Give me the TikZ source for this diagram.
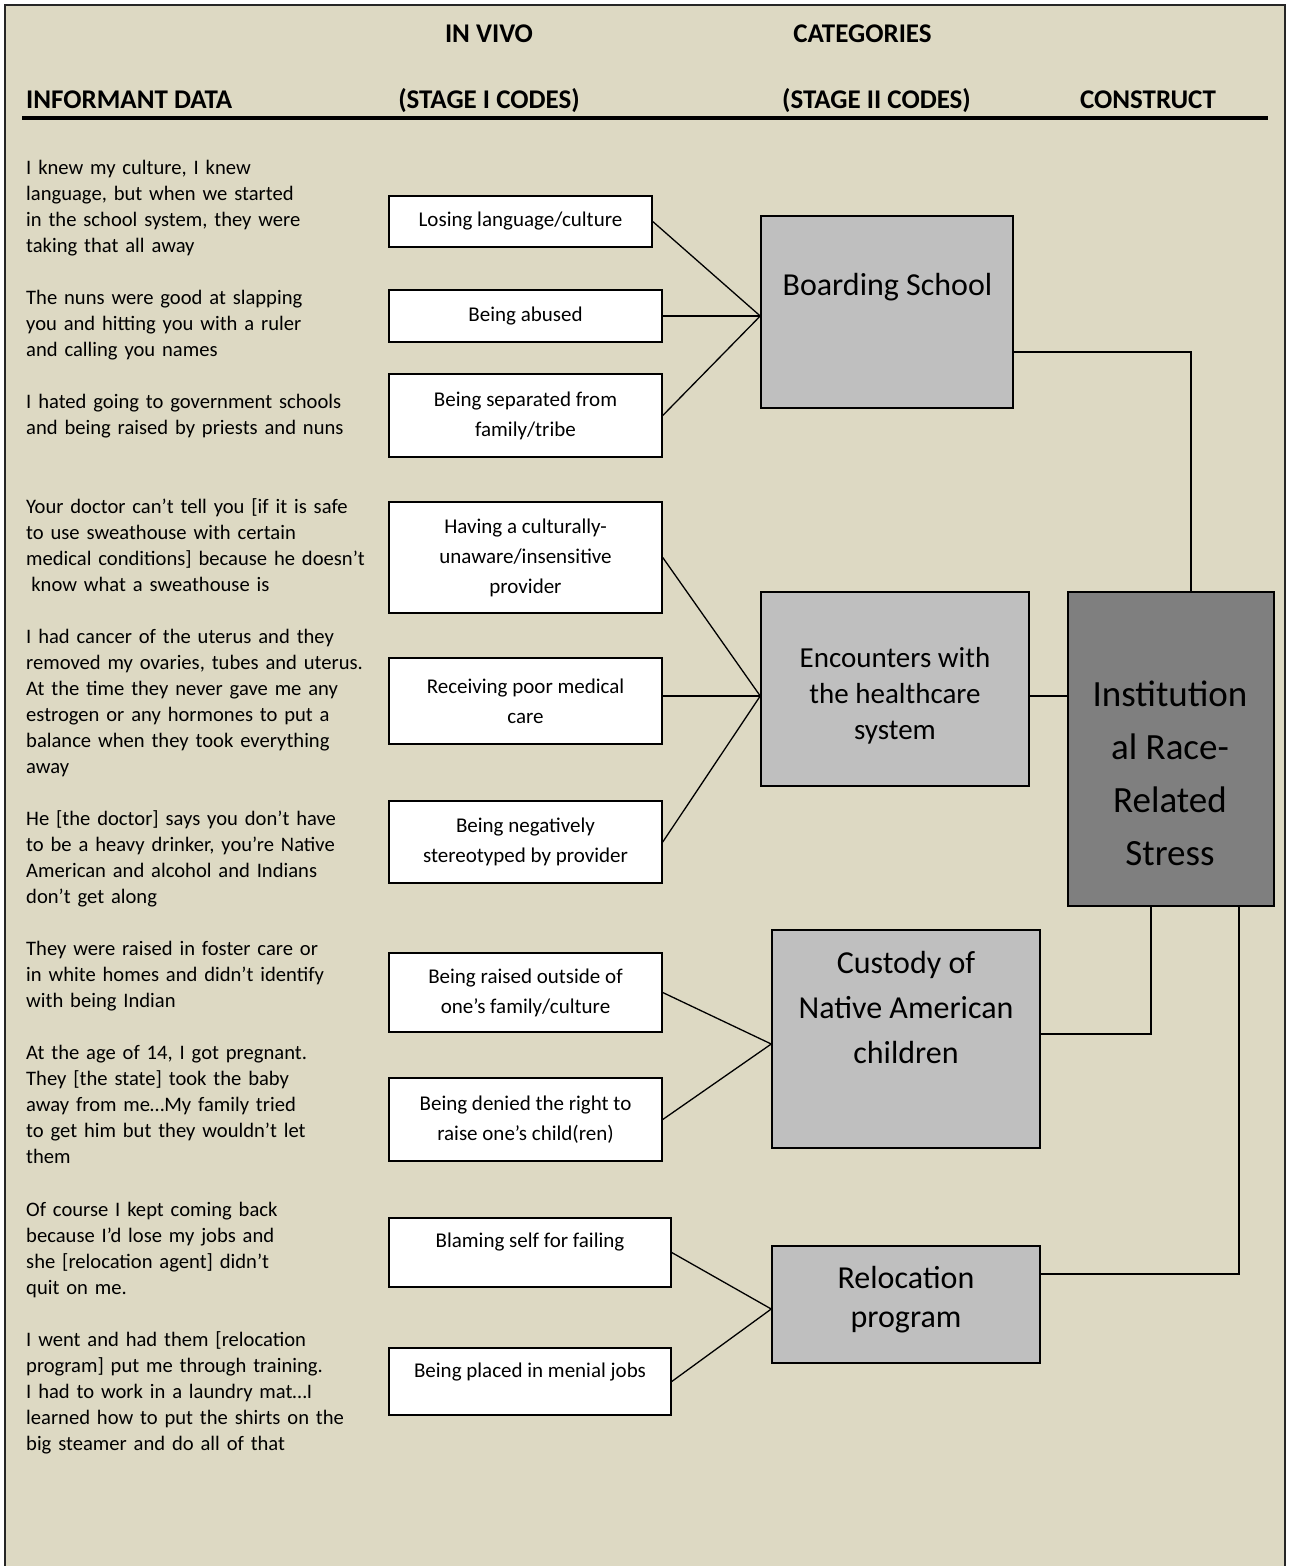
\documentclass[tikz,border=0pt]{standalone}
\usepackage{fontspec}
\setmainfont{Carlito}
\definecolor{bg}{HTML}{DDD9C3}
\definecolor{catgray}{HTML}{BFBFBF}
\definecolor{congray}{HTML}{7F7F7F}
\begin{document}
\begin{tikzpicture}[x=1pt,y=-1pt,
  quote/.style={anchor=base west, inner sep=0pt, align=left, text width=400pt,
    font=\fontsize{20.6}{26}\selectfont},
  codebox/.style={draw=black, line width=1.5pt, fill=white, align=center, inner sep=0pt,
    font=\fontsize{21}{30}\selectfont},
  catbox/.style={draw=black, line width=1.5pt, fill=catgray, inner sep=0pt},
  conbox/.style={draw=black, line width=1.5pt, fill=congray, inner sep=0pt},
  cattext/.style={align=center, inner sep=0pt},
  head/.style={inner sep=0pt, font=\fontsize{27}{30}\selectfont\bfseries},
  link/.style={line width=1.3pt, draw=black}]
\useasboundingbox (0,0) rectangle (1292,1566);
\fill[white] (0,0) rectangle (1292,1566);
\fill[bg] (5,5) rectangle (1285,1570);
\draw[line width=2pt, black!85] (5,1570) -- (5,5) -- (1285,5) -- (1285,1570);
\draw[line width=4pt] (22,118) -- (1268,118);

% headers
\node[head, anchor=base] (h1) at (489,42) {IN VIVO};
\node[head, anchor=base] (h2) at (862.5,42) {CATEGORIES};
\node[head, anchor=base west] (h3) at (26,108) {INFORMANT DATA};
\node[head, anchor=base] (h4) at (489,108) {(STAGE I CODES)};
\node[head, anchor=base] (h5) at (876.5,108) {(STAGE II CODES)};
\node[head, anchor=base] (h6) at (1148,108) {CONSTRUCT};

% informant quotes
\node[quote] (q1) at (26,174.5) {I knew my culture, I knew\\language, but when we started\\in the school system, they were\\taking that all away};
\node[quote] (q2) at (26,304.5) {The nuns were good at slapping\\you and hitting you with a ruler\\and calling you names};
\node[quote] (q3) at (26,408.5) {I hated going to government schools\\and being raised by priests and nuns};
\node[quote] (q4) at (26,513.5) {Your doctor can’t tell you [if it is safe\\to use sweathouse with certain\\medical conditions] because he doesn’t\\\hspace*{0.25em}know what a sweathouse is};
\node[quote] (q5) at (26,643.5) {I had cancer of the uterus and they\\removed my ovaries, tubes and uterus.\\At the time they never gave me any\\estrogen or any hormones to put a\\balance when they took everything\\away};
\node[quote] (q6) at (26,825.3) {He [the doctor] says you don’t have\\to be a heavy drinker, you’re Native\\American and alcohol and Indians\\don’t get along};
\node[quote] (q7) at (26,955.3) {They were raised in foster care or\\in white homes and didn’t identify\\with being Indian};
\node[quote] (q8) at (26,1059.7) {At the age of 14, I got pregnant.\\They [the state] took the baby\\away from me…My family tried\\to get him but they wouldn’t let\\them};
\node[quote] (q9) at (26,1216.3) {Of course I kept coming back\\because I’d lose my jobs and\\she [relocation agent] didn’t\\quit on me.};
\node[quote] (q10) at (26,1346.3) {I went and had them [relocation\\program] put me through training.\\I had to work in a laundry mat…I\\learned how to put the shirts on the\\big steamer and do all of that};

% stage I codes
\node[codebox, minimum width=263pt, minimum height=51pt] (c1) at (520.5,221.5) {Losing language/culture};
\node[codebox, minimum width=273pt, minimum height=52pt] (c2) at (525.5,316) {Being abused};
\node[codebox, minimum width=273pt, minimum height=83pt] (c3) at (525.5,415.5) {Being separated from\\family/tribe};
\node[codebox, minimum width=273pt, minimum height=111pt] (c4) at (525.5,557.5) {Having a culturally-\\unaware/insensitive\\provider};
\node[codebox, minimum width=273pt, minimum height=86pt] (c5) at (525.5,701) {Receiving poor medical\\care};
\node[codebox, minimum width=273pt, minimum height=82pt] (c6) at (525.5,842) {Being negatively\\stereotyped by provider};
\node[codebox, minimum width=273pt, minimum height=79pt] (c7) at (525.5,992.5) {Being raised outside of\\one’s family/culture};
\node[codebox, minimum width=273pt, minimum height=83pt] (c8) at (525.5,1119.5) {Being denied the right to\\raise one’s child(ren)};
\node[codebox, minimum width=282pt, minimum height=69pt, text height=15pt, text depth=25pt] (c9) at (530,1252.5) {Blaming self for failing};
\node[codebox, minimum width=282pt, minimum height=67pt, text height=15pt, text depth=24pt] (c10) at (530,1381.5) {Being placed in menial jobs};

% stage II categories
\node[catbox, minimum width=252pt, minimum height=192pt] (bs) at (887,312) {};
\node[catbox, minimum width=268pt, minimum height=194pt] (enc) at (895,689) {};
\node[catbox, minimum width=268pt, minimum height=218pt] (cus) at (906,1039) {};
\node[catbox, minimum width=268pt, minimum height=117pt] (rel) at (906,1304.5) {};
\node[conbox, minimum width=206pt, minimum height=314pt] (k) at (1171,749) {};

\node[cattext, font=\fontsize{32}{38}\selectfont] (tbs) at (887.5,287) {Boarding School};
\node[cattext, font=\fontsize{29}{36}\selectfont] (tenc) at (895,695.5) {Encounters with\\the healthcare\\system};
\node[cattext, font=\fontsize{32}{45}\selectfont] (tcus) at (906,1007.5) {Custody of\\Native American\\children};
\node[cattext, font=\fontsize{32}{39}\selectfont] (trel) at (906,1300) {Relocation\\program};
\node[cattext, font=\fontsize{37}{53}\selectfont] (tk) at (1170,773) {Institution\\al Race-\\Related\\Stress};

% convergence points
\coordinate (bsin) at ([yshift=-4pt]bs.west);
\coordinate (encin) at ([yshift=-7pt]enc.west);
\coordinate (cusin) at ([yshift=-5pt]cus.west);
\coordinate (relin) at ([yshift=-4.5pt]rel.west);

\draw[link] (c1.east) -- (bsin);
\draw[link] (bsin -| c2.east) -- (bsin);
\draw[link] (c3.east) -- (bsin);
\draw[link] (c4.east) -- (encin);
\draw[link] (encin -| c5.east) -- (encin);
\draw[link] (c6.east) -- (encin);
\draw[link] (c7.east) -- (cusin);
\draw[link] (c8.east) -- (cusin);
\draw[link] (c9.east) -- (relin);
\draw[link] (c10.east) -- (relin);

% categories to construct
\coordinate (bsout) at ([yshift=-40pt]bs.east);
\coordinate (cusout) at ([yshift=5pt]cus.east);
\coordinate (relout) at ([yshift=30.5pt]rel.east);
\draw[link] (bsout) -| ([xshift=20pt]k.north);
\draw[link] (encin -| enc.east) -- (encin -| k.west);
\draw[link] (cusout) -| ([xshift=-20pt]k.south);
\draw[link] (relout) -| ([xshift=68pt]k.south);
\end{tikzpicture}
\end{document}
